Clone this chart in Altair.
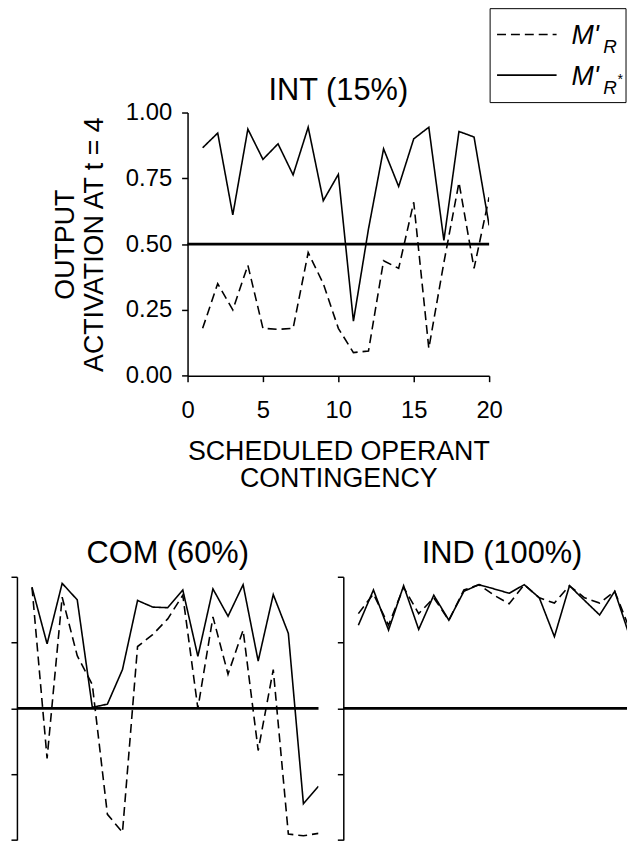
import altair as alt
import pandas as pd

# ---------------- data ----------------
x_vals = list(range(1, 21))
series_names = ["M'R", "M'R*"]

int_r = [0.18, 0.35, 0.25, 0.42, 0.18, 0.176, 0.18, 0.468, 0.35, 0.18,
         0.088, 0.094, 0.437, 0.408, 0.659, 0.104, 0.43, 0.734, 0.408, 0.678]
int_rstar = [0.866, 0.922, 0.611, 0.937, 0.822, 0.881, 0.763, 0.944, 0.665, 0.765,
             0.207, 0.558, 0.862, 0.719, 0.900, 0.944, 0.514, 0.928, 0.907, 0.571]

com_r = [0.96, 0.31, 0.9225, 0.70, 0.59, 0.0975, 0.029, 0.735, 0.78, 0.84,
         0.93, 0.50, 0.8475, 0.63, 0.7975, 0.34, 0.6475, 0.0225, 0.016, 0.025]
com_rstar = [0.96, 0.745, 0.975, 0.9125, 0.504, 0.516, 0.6475, 0.91, 0.885, 0.8825,
             0.95, 0.6975, 0.954, 0.85, 0.97, 0.68, 0.9325, 0.785, 0.1375, 0.204]

ind_r = [0.86, 0.935, 0.816, 0.96, 0.86, 0.92, 0.835, 0.95, 0.97, 0.93,
         0.8975, 0.97, 0.92, 0.90, 0.966, 0.92, 0.90, 0.945, 0.80, 0.90]
ind_rstar = [0.816, 0.95, 0.7975, 0.966, 0.80, 0.93, 0.835, 0.945, 0.97, 0.954,
             0.9375, 0.97, 0.92, 0.7725, 0.966, 0.91, 0.855, 0.945, 0.7725, 0.95]

y_ticks = [0, 0.25, 0.5, 0.75, 1.0]
x_ticks = [0, 5, 10, 15, 20]
threshold = [0.5]
titles = ["INT (15%)", "COM (60%)", "IND (100%)"]
y_title = ["OUTPUT", "ACTIVATION AT t = 4"]
x_title = ["SCHEDULED OPERANT", "CONTINGENCY"]

FONT = "Liberation Sans"
DASH = [9, 5]
PW = 304          # plot width for x in [0, 20]
PH = 265.3        # plot height for y in [0, 1]
PX_PER_UNIT = PW / 20.0


def long_df(r, rstar):
    return pd.DataFrame({
        "x": x_vals * 2,
        "v": list(r) + list(rstar),
        "s": [series_names[0]] * len(r) + [series_names[1]] * len(rstar),
    })


def panel(r, rstar, title, width, xmax, top=False, title_dx=0):
    if top:
        x_enc = alt.X("x:Q", scale=alt.Scale(domain=[0, xmax], nice=False),
                      axis=alt.Axis(values=x_ticks, format="d", title=x_title,
                                    titleFontSize=27, titleFontWeight="normal",
                                    titleLineHeight=28, titlePadding=16,
                                    labelFontSize=24, labelPadding=17, labelFlush=False,
                                    tickSize=6, grid=False, domainColor="black",
                                    tickColor="black", labelColor="black",
                                    titleColor="black", domainWidth=1.5, tickWidth=1.5,
                                    titleFont=FONT, labelFont=FONT))
        y_axis = alt.Axis(values=y_ticks, format=".2f", title=y_title,
                          titleFontSize=27, titleFontWeight="normal", titleLineHeight=29,
                          titlePadding=17, labelFontSize=24, labelPadding=10,
                          labelFlush=False, tickSize=6, grid=False,
                          domainColor="black", tickColor="black", labelColor="black",
                          titleColor="black", domainWidth=1.5, tickWidth=1.5,
                          titleFont=FONT, labelFont=FONT)
    else:
        x_enc = alt.X("x:Q", scale=alt.Scale(domain=[0, xmax], nice=False), axis=None)
        y_axis = alt.Axis(values=y_ticks, labels=False, title=None, tickSize=6,
                          grid=False, domainColor="black", tickColor="black",
                          domainWidth=1.5, tickWidth=1.5)

    y_enc = alt.Y("v:Q", scale=alt.Scale(domain=[0, 1], nice=False), axis=y_axis)

    lines = alt.Chart(long_df(r, rstar)).mark_line(
        color="black", strokeWidth=1.6, clip=True
    ).encode(
        x=x_enc,
        y=y_enc,
        strokeDash=alt.StrokeDash("s:N", scale=alt.Scale(domain=series_names,
                                                         range=[DASH, [1, 0]]),
                                  legend=None),
        detail="s:N",
    )
    rule = alt.Chart(pd.DataFrame({"v": threshold})).mark_rule(
        color="black", strokeWidth=2.6
    ).encode(y=alt.Y("v:Q"))

    layers = [rule, lines]

    if top:
        one = pd.DataFrame({"k": [0]})
        box = alt.Chart(one).mark_rect(fill="white", fillOpacity=0, stroke="black",
                                       strokeWidth=1).encode(
            x=alt.value(305), x2=alt.value(442), y=alt.value(-104.7), y2=alt.value(-10))
        l1 = alt.Chart(one).mark_rule(color="black", strokeWidth=1.6,
                                      strokeDash=DASH).encode(
            x=alt.value(312), x2=alt.value(372), y=alt.value(-78.7))
        l2 = alt.Chart(one).mark_rule(color="black", strokeWidth=1.6).encode(
            x=alt.value(312), x2=alt.value(372), y=alt.value(-37.7))

        def txt(t, size, x, y, style="italic", align="left"):
            return alt.Chart(one).mark_text(
                text=t, fontSize=size, fontStyle=style, font=FONT,
                align=align, baseline="alphabetic", color="black"
            ).encode(x=alt.value(x), y=alt.value(y))

        layers += [box, l1, l2,
                   txt("M'", 27, 387, -68.7), txt("R", 19, 419, -59.7),
                   txt("M'", 27, 387, -27.7), txt("R", 19, 419, -18.7),
                   txt("*", 14, 433, -29),
                   txt(title, 31, width / 2, -13, style="normal", align="center")]
        return alt.layer(*layers).properties(width=width, height=PH)

    return alt.layer(*layers).properties(
        width=width, height=PH,
        title=alt.TitleParams(title, fontSize=31, fontWeight="normal", font=FONT,
                              anchor="middle", frame="group", offset=6, dx=title_dx,
                              color="black"),
    )


top_panel = panel(int_r, int_rstar, titles[0], PW, 20, top=True)

# invisible spacer that shifts the top panel to the right
spacer = alt.Chart(pd.DataFrame({"k": [0]})).mark_rect(
    fill="white", fillOpacity=0, strokeOpacity=0, strokeWidth=0
).encode(
    x=alt.value(0), x2=alt.value(35), y=alt.value(0), y2=alt.value(0)
).properties(width=35, height=1)

top_row = alt.hconcat(spacer, top_panel, spacing=0)

ind_width = 286
com = panel(com_r, com_rstar, titles[1], PW, 20)
ind = panel(ind_r, ind_rstar, titles[2], ind_width, ind_width / PX_PER_UNIT,
            title_dx=17)
bottom_row = alt.hconcat(com, ind, spacing=16)

chart = alt.vconcat(top_row, bottom_row, spacing=46).properties(
    padding={"left": 2, "top": -4, "right": 0, "bottom": 0}
).configure(font=FONT).configure_view(stroke=None, strokeWidth=0)

chart.save("out.html", embed_options={"renderer": "svg", "actions": False})
